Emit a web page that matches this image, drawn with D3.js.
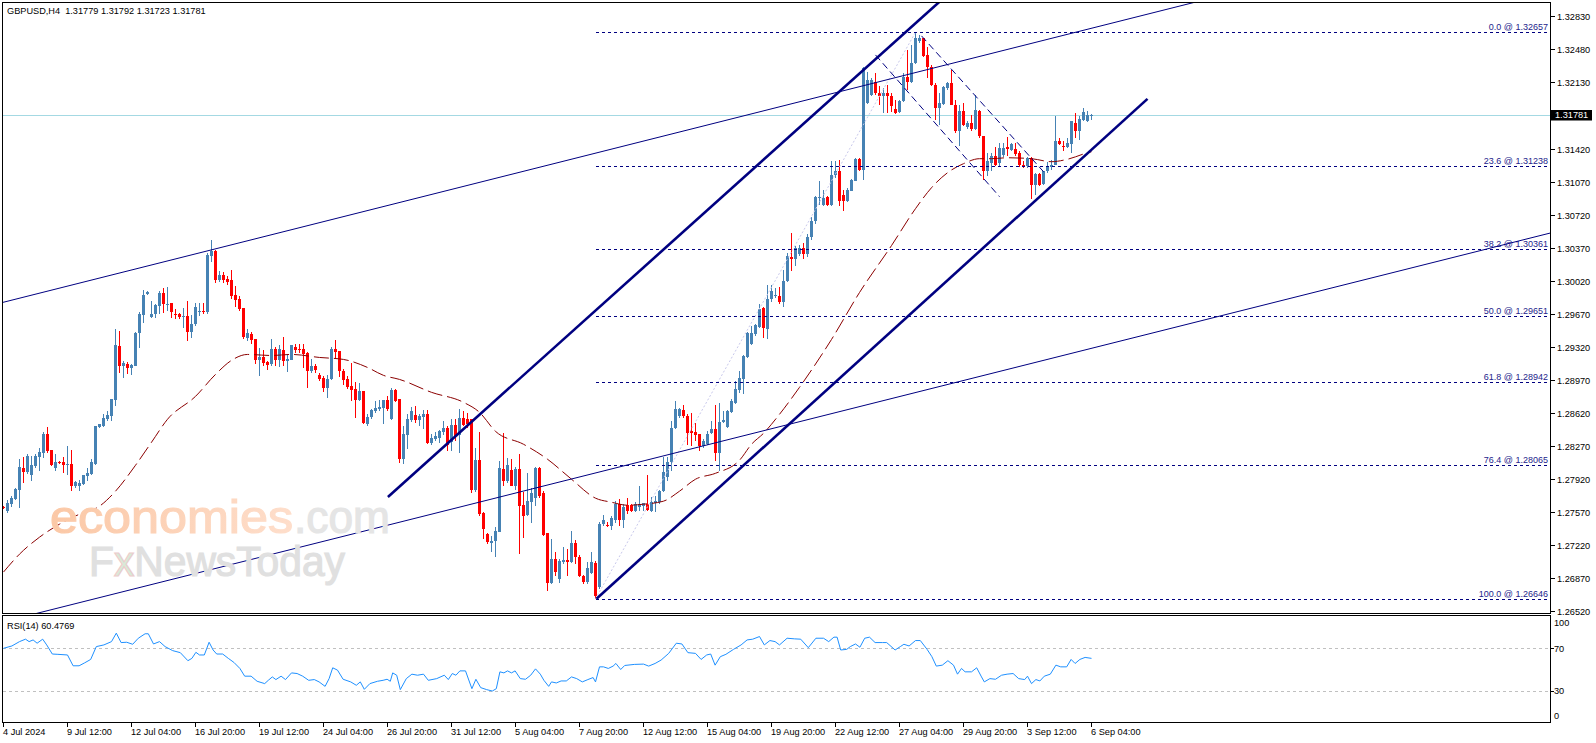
<!DOCTYPE html>
<html><head><meta charset="utf-8">
<script src="https://cdn.jsdelivr.net/npm/d3@7"></script>
<style>
html,body{margin:0;padding:0;background:#fff;overflow:hidden}
svg{display:block}
text{font-family:"Liberation Sans",Arial,sans-serif}
</style>
</head><body>
<svg id="c" width="1596" height="743"></svg>
<script>
// ---------------- DATA ----------------
const symbolTitle = "GBPUSD,H4  1.31779 1.31792 1.31723 1.31781";
const rsiTitle = "RSI(14) 60.4769";
const opens = [
1.27623,1.27573,1.27651,1.27707,1.27803,1.28039,1.27990,1.27962,1.28053,1.28152,
1.28194,1.28392,1.28222,1.28032,1.28099,1.28096,1.28074,1.28074,1.27845,1.27841,
1.27863,1.27948,1.27969,1.28081,1.28470,1.28477,1.28551,1.28583,1.28752,1.29324,
1.29112,1.29141,1.29091,1.29119,1.29465,1.29656,1.29882,1.29635,1.29663,1.29748,
1.29892,1.29769,1.29780,1.29673,1.29663,1.29635,1.29642,1.29479,1.29557,1.29695,
1.29705,1.29688,1.30288,1.30334,1.30034,1.30087,1.30041,1.30027,1.29871,1.29822,
1.29727,1.29416,1.29451,1.29398,1.29176,1.29211,1.29158,1.29134,1.29293,1.29180,
1.29282,1.29169,1.29180,1.29317,1.29293,1.29293,1.29250,1.29063,1.29116,1.29017,
1.28985,1.28883,1.28975,1.29293,1.29271,1.29059,1.28975,1.28904,1.28869,1.28756,
1.28848,1.28505,1.28579,1.28636,1.28664,1.28671,1.28752,1.28550,1.28861,1.28763,
1.28134,1.28385,1.28544,1.28593,1.28544,1.28579,1.28607,1.28297,1.28339,1.28357,
1.28417,1.28463,1.28311,1.28487,1.28381,1.28565,1.28551,1.28551,1.27802,1.28120,
1.27555,1.27333,1.27237,1.27262,1.27358,1.28028,1.27898,1.28014,1.27845,1.28021,
1.27640,1.27534,1.27675,1.27721,1.28039,1.27774,1.27343,1.26814,1.27068,1.26856,
1.27040,1.27058,1.27033,1.27238,1.27089,1.26892,1.26821,1.26920,1.27026,1.26768,
1.27435,1.27428,1.27420,1.27480,1.27650,1.27480,1.27644,1.27637,1.27581,1.27616,
1.27634,1.27651,1.27581,1.27665,1.27669,1.27785,1.27934,1.28093,1.28463,1.28587,
1.28647,1.28590,1.28428,1.28414,1.28393,1.28269,1.28287,1.28410,1.28446,1.28188,
1.28527,1.28474,1.28632,1.28728,1.28862,1.28975,1.29211,1.29346,1.29452,1.29529,
1.29727,1.29504,1.29822,1.29854,1.29864,1.29797,1.30016,1.30274,1.30253,1.30306,
1.30369,1.30300,1.30480,1.30650,1.30900,1.30829,1.30907,1.30829,1.31140,1.31189,
1.30928,1.30864,1.30977,1.31083,1.31312,1.31192,1.31906,1.31994,1.32135,1.32012,
1.31983,1.32012,1.31976,1.31846,1.31807,1.31923,1.32188,1.32125,1.32330,1.32566,
1.32594,1.32418,1.32294,1.32100,1.31853,1.31899,1.32065,1.32118,1.31888,1.31606,
1.31824,1.31648,1.31690,1.31634,1.31824,1.31553,1.31189,1.31270,1.31341,1.31270,
1.31351,1.31436,1.31411,1.31422,1.31376,1.31253,1.31235,1.31323,1.31034,1.31154,
1.31048,1.31182,1.31224,1.31253,1.31507,1.31454,1.31436,1.31471,1.31694,1.31606,
1.31729,1.31711,1.31779];
const highs = [
1.27633,1.27693,1.27739,1.27827,1.28127,1.28156,1.28180,1.28162,1.28187,1.28251,
1.28420,1.28470,1.28229,1.28180,1.28110,1.28152,1.28268,1.28222,1.27898,1.27912,
1.27962,1.28039,1.28134,1.28484,1.28505,1.28604,1.28639,1.28770,1.29504,1.29493,
1.29169,1.29158,1.29141,1.29479,1.29691,1.29921,1.29917,1.29811,1.29776,1.29914,
1.29945,1.29959,1.29780,1.29716,1.29681,1.29737,1.29811,1.29656,1.29787,1.29787,
1.29787,1.30316,1.30457,1.30352,1.30122,1.30111,1.30069,1.30140,1.29970,1.29857,
1.29727,1.29511,1.29476,1.29398,1.29303,1.29282,1.29169,1.29405,1.29317,1.29335,
1.29427,1.29240,1.29342,1.29346,1.29346,1.29346,1.29264,1.29187,1.29134,1.29045,
1.29010,1.29024,1.29321,1.29388,1.29271,1.29088,1.29010,1.29144,1.28947,1.28933,
1.28851,1.28604,1.28664,1.28745,1.28756,1.28756,1.28798,1.28886,1.28875,1.28763,
1.28480,1.28604,1.28685,1.28692,1.28611,1.28650,1.28650,1.28392,1.28417,1.28438,
1.28533,1.28480,1.28558,1.28551,1.28664,1.28639,1.28614,1.28558,1.28251,1.28417,
1.27562,1.27343,1.27315,1.27403,1.28110,1.28410,1.28145,1.28127,1.28050,1.28180,
1.27781,1.27979,1.27827,1.28050,1.28050,1.27792,1.27343,1.27280,1.27139,1.27068,
1.27192,1.27174,1.27368,1.27273,1.27111,1.26899,1.27033,1.27146,1.27050,1.27456,
1.27534,1.27456,1.27528,1.27680,1.27700,1.27650,1.27715,1.27651,1.27669,1.27845,
1.27665,1.27962,1.27722,1.27739,1.27799,1.28153,1.28146,1.28534,1.28746,1.28675,
1.28700,1.28604,1.28622,1.28516,1.28400,1.28340,1.28428,1.28534,1.28703,1.28728,
1.28640,1.28647,1.28763,1.28957,1.29063,1.29233,1.29480,1.29540,1.29558,1.29776,
1.29741,1.29981,1.29974,1.29946,1.29953,1.30140,1.30316,1.30528,1.30387,1.30398,
1.30420,1.30520,1.30700,1.30917,1.31076,1.30988,1.30917,1.31295,1.31295,1.31306,
1.30988,1.31006,1.31104,1.31320,1.31323,1.32294,1.32241,1.32170,1.32230,1.32082,
1.32065,1.32100,1.32012,1.31941,1.31941,1.32224,1.32471,1.32524,1.32657,1.32629,
1.32601,1.32506,1.32305,1.32118,1.32012,1.32082,1.32135,1.32259,1.31941,1.31888,
1.31906,1.31712,1.31775,1.31994,1.31835,1.31560,1.31376,1.31376,1.31436,1.31482,
1.31482,1.31542,1.31482,1.31482,1.31394,1.31295,1.31330,1.31330,1.31161,1.31164,
1.31189,1.31281,1.31306,1.31764,1.31535,1.31500,1.31535,1.31718,1.31800,1.31764,
1.31853,1.31824,1.31792];
const lows = [
1.27594,1.27552,1.27623,1.27693,1.27609,1.27880,1.27969,1.27898,1.28032,1.28004,
1.28145,1.28198,1.28060,1.28004,1.28074,1.27976,1.27962,1.27785,1.27827,1.27792,
1.27856,1.27898,1.27962,1.28067,1.28456,1.28470,1.28533,1.28533,1.28692,1.29038,
1.28985,1.29028,1.29020,1.29112,1.29310,1.29575,1.29868,1.29621,1.29621,1.29670,
1.29681,1.29705,1.29628,1.29610,1.29610,1.29518,1.29381,1.29416,1.29540,1.29652,
1.29663,1.29663,1.30217,1.29992,1.30006,1.29999,1.29981,1.29829,1.29744,1.29698,
1.29398,1.29381,1.29346,1.29134,1.29010,1.29116,1.29074,1.29116,1.29116,1.29109,
1.29116,1.29052,1.29176,1.29250,1.29250,1.29098,1.28886,1.29045,1.29038,1.28957,
1.28841,1.28781,1.28968,1.29194,1.29003,1.28911,1.28869,1.28746,1.28569,1.28749,
1.28498,1.28480,1.28558,1.28622,1.28639,1.28505,1.28639,1.28543,1.28734,1.28085,
1.28074,1.28233,1.28522,1.28515,1.28480,1.28445,1.28286,1.28275,1.28321,1.28304,
1.28381,1.28215,1.28215,1.28321,1.28198,1.28480,1.28463,1.27774,1.27781,1.27520,
1.27280,1.27227,1.27146,1.27086,1.27350,1.27845,1.27873,1.27838,1.27802,1.27121,
1.27287,1.27527,1.27449,1.27633,1.27721,1.27308,1.26733,1.26803,1.26892,1.26814,
1.27015,1.26892,1.27026,1.27015,1.26874,1.26803,1.26803,1.26909,1.26646,1.26750,
1.27421,1.27403,1.27380,1.27450,1.27420,1.27400,1.27545,1.27563,1.27563,1.27581,
1.27581,1.27581,1.27563,1.27570,1.27651,1.27775,1.27898,1.28004,1.28446,1.28569,
1.28562,1.28280,1.28269,1.28322,1.28216,1.28251,1.28280,1.28393,1.28110,1.27997,
1.28516,1.28463,1.28622,1.28717,1.28834,1.28816,1.29204,1.29338,1.29434,1.29522,
1.29416,1.29399,1.29797,1.29840,1.29769,1.29741,1.30009,1.30122,1.30175,1.30281,
1.30250,1.30270,1.30450,1.30620,1.30829,1.30812,1.30812,1.30812,1.31111,1.30812,
1.30766,1.30857,1.30970,1.31076,1.31182,1.31087,1.31895,1.31976,1.31994,1.31888,
1.31800,1.31800,1.31810,1.31789,1.31800,1.31916,1.32047,1.32118,1.32319,1.32541,
1.32400,1.32170,1.32082,1.31729,1.31676,1.31888,1.32047,1.31881,1.31588,1.31447,
1.31659,1.31634,1.31613,1.31620,1.31535,1.31094,1.31129,1.31182,1.31235,1.31235,
1.31330,1.31341,1.31394,1.31341,1.31224,1.31217,1.31217,1.30893,1.30935,1.31023,
1.31034,1.31164,1.31200,1.31246,1.31464,1.31394,1.31429,1.31376,1.31535,1.31517,
1.31711,1.31704,1.31723];
const closes = [
1.27605,1.27658,1.27715,1.27806,1.28046,1.27993,1.28159,1.28067,1.28159,1.28201,
1.28399,1.28215,1.28067,1.28096,1.28089,1.28067,1.28081,1.27845,1.27887,1.27877,
1.27955,1.27983,1.28096,1.28477,1.28498,1.28561,1.28597,1.28763,1.29338,1.29116,
1.29148,1.29091,1.29126,1.29469,1.29670,1.29875,1.29900,1.29673,1.29762,1.29896,
1.29769,1.29776,1.29691,1.29656,1.29635,1.29642,1.29476,1.29557,1.29744,1.29705,
1.29688,1.30299,1.30334,1.30034,1.30087,1.30034,1.30006,1.29864,1.29815,1.29716,
1.29427,1.29462,1.29388,1.29180,1.29211,1.29151,1.29123,1.29293,1.29180,1.29293,
1.29169,1.29194,1.29335,1.29286,1.29282,1.29240,1.29063,1.29116,1.29074,1.28975,
1.28883,1.28975,1.29293,1.29264,1.29063,1.28968,1.28890,1.28862,1.28756,1.28848,
1.28509,1.28579,1.28646,1.28668,1.28682,1.28752,1.28657,1.28861,1.28745,1.28134,
1.28392,1.28551,1.28635,1.28544,1.28586,1.28607,1.28304,1.28350,1.28374,1.28431,
1.28463,1.28275,1.28487,1.28374,1.28568,1.28494,1.28498,1.27802,1.28120,1.27545,
1.27386,1.27244,1.27262,1.27361,1.28039,1.27898,1.28064,1.27845,1.28021,1.27633,
1.27527,1.27682,1.27774,1.28039,1.27739,1.27322,1.26814,1.27068,1.26934,1.27050,
1.27058,1.27033,1.27238,1.27086,1.26892,1.26821,1.26969,1.27040,1.26673,1.27439,
1.27485,1.27421,1.27500,1.27657,1.27480,1.27615,1.27581,1.27581,1.27651,1.27651,
1.27658,1.27588,1.27669,1.27686,1.27792,1.27987,1.28093,1.28463,1.28657,1.28657,
1.28587,1.28410,1.28410,1.28386,1.28269,1.28322,1.28400,1.28446,1.28188,1.28527,
1.28544,1.28640,1.28746,1.28869,1.28986,1.29222,1.29469,1.29469,1.29547,1.29716,
1.29515,1.29822,1.29917,1.29868,1.29797,1.30016,1.30281,1.30253,1.30369,1.30369,
1.30300,1.30480,1.30650,1.30907,1.30914,1.30900,1.30829,1.31147,1.31189,1.30864,
1.30864,1.30988,1.31094,1.31312,1.31192,1.32276,1.32153,1.32153,1.32012,1.31976,
1.32012,1.31976,1.31870,1.31800,1.31930,1.32188,1.32128,1.32330,1.32601,1.32601,
1.32410,1.32294,1.32100,1.31853,1.31906,1.32072,1.32118,1.31888,1.31606,1.31824,
1.31676,1.31690,1.31634,1.31835,1.31553,1.31182,1.31288,1.31341,1.31253,1.31429,
1.31429,1.31422,1.31471,1.31366,1.31246,1.31235,1.31323,1.31034,1.31154,1.31041,
1.31182,1.31235,1.31253,1.31507,1.31471,1.31436,1.31482,1.31711,1.31606,1.31740,
1.31807,1.31782,1.31781];

// moving average (read at sampled bars)
const maBars = [0,4,9,14,19,24,28,33,37,41,48,53,57,61,67,72,79,85,91,95,99,107,115,119,123,130,136,142,148,152,156,160,165,169,173,178,184,187,190,194,199,207,214,222,228,232,236,240,244,247,251,257,262,266,271,272];
const maValues = [1.26930,1.27120,1.27300,1.27438,1.27544,1.27629,1.27788,1.28063,1.28307,1.28551,1.28794,1.29027,1.29176,1.29239,1.29228,1.29239,1.29207,1.29186,1.29101,1.29017,1.28974,1.28837,1.28731,1.28625,1.28423,1.28286,1.28127,1.27915,1.27714,1.27671,1.27639,1.27650,1.27682,1.27788,1.27915,1.27978,1.28116,1.28286,1.28402,1.28604,1.28890,1.29398,1.29896,1.30394,1.30786,1.31008,1.31167,1.31263,1.31316,1.31316,1.31326,1.31316,1.31284,1.31310,1.31379,1.31390];

// RSI(14) read at bar positions
const rsiBars = [0,2.1,4,5.5,6.4,7.4,8.4,9.8,10.8,12.2,13.6,16,17.4,18.9,20.3,21.8,23.2,25.1,27,28.2,29.4,30.8,32.3,33.7,35.4,36.2,37.5,39,40.4,42.3,44.2,46.1,47.1,48.1,49,50.2,51.4,52.4,53.3,54.8,56.2,57.6,59.1,60.3,61.9,63.4,65.3,66.2,67.2,68.1,69.4,70.5,72,73.4,74.8,76.3,77.7,78.9,80.4,81.4,82.3,83.5,84.9,86.8,88.2,89.2,90.2,91.6,93.5,94.9,95.9,96.7,97.3,98.3,99.2,100.7,102.1,103.5,105,106.2,108.3,110.2,111.2,112.2,113.1,114.1,115.5,117.1,118.1,119.3,120.8,122.2,123.2,124.1,125.1,126,127,127.9,129.2,130.5,131.8,133,134.2,135.1,136.3,137,138.2,139.4,140.7,142,143.3,144.7,146.1,147.4,148,149,150,151.2,152.4,153.1,154.3,155.3,157.7,160,161.3,162.9,164.4,166.3,168.2,169.6,171.1,173,174.4,175.8,176.8,177.9,179.2,180.6,182.5,184.4,185.9,187.3,189,190.2,191.6,192.9,194,195.9,197.8,199.3,201.2,203.1,205,206.3,207.6,208.4,209.3,210.8,211.7,213,214.1,215.3,216.5,217.9,219.8,220.8,222.9,224.2,225.1,226.4,228,229.2,230.9,232.1,233.2,234.7,236.1,237.5,238.5,239.5,240.4,242,243.3,244.5,245.2,246.6,248,249.5,250.9,252.4,253.8,255.3,256,257,258.1,259.1,260.2,261.7,263.1,264.3,265.8,266.9,267.9,269.1,270.4,272];
const rsiValues = [70,72.2,76.3,78.6,76.3,77.9,74.8,78.6,73.2,64.6,64.3,63.7,53.5,53.5,56.3,59.5,71.6,73.2,76.3,84.3,75.4,75.7,73.8,79.5,83.7,83.7,74.1,76.3,71.6,67.8,65.9,58.3,60.5,66.2,63.7,63.7,75.7,68.4,64.6,64.6,60.5,56.7,51,43.7,43.7,38.9,36.7,39.8,43,40.5,43.7,40.5,46.8,46.2,43.7,39.8,40.5,38.3,34.1,41.4,51.6,49.4,40.8,38.3,35.1,38.3,31.3,36.7,38.9,39.8,40.8,38.9,46.8,44.6,31,41.4,45.6,44.6,45.6,39.8,41.4,44.6,40.5,46.2,44.6,48.7,48.7,31.9,40.8,32.9,31,29.7,31.9,47.8,46.8,48.7,46.8,48.7,41.4,40.8,44.6,50.6,45.6,39.8,34.1,38.3,37.3,39.2,39.2,43,41.4,38.3,40.5,42.4,38.3,52.5,52.5,51,53.2,55.7,50,53.8,54.8,55.1,53.2,55.7,58.9,65.2,74.8,74.1,65.9,65.2,59.5,63.7,64.6,54.1,62.1,64.3,69,73.2,77.9,78.6,81.1,73.2,77.3,76.3,73.2,79.5,78.9,78.6,70.6,79.5,79.5,76.3,80.5,80.5,68.4,69,71.6,74.1,71,79.5,80.5,75.4,75.4,75.4,68.4,71.6,73.8,72.2,77.3,77.3,69,62.1,53.2,54.1,58.3,54.1,45.6,51,47.8,47.8,51.6,43,38.3,41.4,40.8,44.6,45.6,46.2,41.4,40.5,43.7,36.7,40.5,39.2,43.7,45.6,54.1,52.5,52.5,59.5,55.7,59.5,61.4,60.5];

// axes
const priceTicks = [1.32830,1.32480,1.32130,1.31420,1.31070,1.30720,1.30370,1.30020,1.29670,1.29320,1.28970,1.28620,1.28270,1.27920,1.27570,1.27220,1.26870,1.26520];
const currentPrice = 1.31781;
const timeTickBars = [0,16,32,48,64,80,96,112,128,144,160,176,192,208,224,240,256,272];
const timeLabels = ["4 Jul 2024","9 Jul 12:00","12 Jul 04:00","16 Jul 20:00","19 Jul 12:00","24 Jul 04:00","26 Jul 20:00","31 Jul 12:00","5 Aug 04:00","7 Aug 20:00","12 Aug 12:00","15 Aug 04:00","19 Aug 20:00","22 Aug 12:00","27 Aug 04:00","29 Aug 20:00","3 Sep 12:00","6 Sep 04:00"];
const rsiAxisLevels = [100,70,30,0];
const rsiDashLevels = [70,30];

// fibonacci retracement (low bar -> high bar)
const fibStartBar = 148, fibEndBar = 228;
const fibLevels = [0.0,23.6,38.2,50.0,61.8,76.4,100.0];
const fibPrices = [1.32657,1.31238,1.30361,1.29651,1.28942,1.28065,1.26646];

// trend lines: [bar, price] anchor pairs
const wideChannelUpper = [[0,1.29793],[272,1.32700]];
const wideChannelLower = [[0,1.26403],[272,1.29304]];
const riseChannelUpper = [[96.1,1.27727],[226.75,1.32705]];
const riseChannelLower = [[148.25,1.26646],[286,1.31951]];
const fallChannelUpper = [[229.5,1.32619],[260,1.31178]];
const fallChannelLower = [[218,1.32417],[249,1.30913]];

// ---------------- DRAW ----------------
const svg = d3.select('#c');
const defs = svg.append('defs');
const PL = 2.5, PR = 1550.5, PT = 2.5, PB = 613.5, RT = 615.5, RB = 722.5;

const x = d3.scaleLinear().domain([0,272]).range([3.5,1091.5]);
const y = d3.scaleLinear().domain([1.26520,1.32830]).range([610.7,16]);
const yr = d3.scaleLinear().domain([0,100]).range([722.5,616.5]);

svg.append('rect').attr('width',1596).attr('height',743).attr('fill','#fff');

defs.append('clipPath').attr('id','mainClip').append('rect')
  .attr('x',PL+0.5).attr('y',PT+0.5).attr('width',PR-PL-1).attr('height',PB-PT-1);
defs.append('clipPath').attr('id','rsiClip').append('rect')
  .attr('x',PL+0.5).attr('y',RT+0.5).attr('width',PR-PL-1).attr('height',RB-RT-1);

const main = svg.append('g').attr('clip-path','url(#mainClip)');

// bid line
main.append('line').attr('x1',PL).attr('x2',PR)
  .attr('y1',Math.round(y(currentPrice))+0.5).attr('y2',Math.round(y(currentPrice))+0.5)
  .attr('stroke','#a4d9e3').attr('stroke-width',1).attr('shape-rendering','crispEdges');

// candles
const idx = d3.range(opens.length);
const cg = main.append('g').attr('shape-rendering','crispEdges');
const col = i => closes[i] >= opens[i] ? '#4682b4' : '#ff0000';
cg.selectAll('line.w').data(idx).join('line').attr('class','w')
  .attr('x1',i=>x(i)).attr('x2',i=>x(i))
  .attr('y1',i=>y(highs[i])).attr('y2',i=>y(lows[i]))
  .attr('stroke',col).attr('stroke-width',1);
cg.selectAll('rect.b').data(idx).join('rect').attr('class','b')
  .attr('x',i=>x(i)-1.5).attr('width',3)
  .attr('y',i=>y(Math.max(opens[i],closes[i])))
  .attr('height',i=>Math.max(1, y(Math.min(opens[i],closes[i])) - y(Math.max(opens[i],closes[i]))))
  .attr('fill',col);

// moving average
const maLine = d3.line().x(d=>x(d[0])).y(d=>y(d[1])).curve(d3.curveMonotoneX);
main.append('path').datum(maBars.map((b,i)=>[b,maValues[i]]))
  .attr('d',maLine).attr('fill','none').attr('stroke','#8b0000')
  .attr('stroke-width',1).attr('stroke-dasharray','15,5');

// fib diagonal
main.append('line').attr('x1',x(fibStartBar)).attr('y1',y(fibPrices[6]))
  .attr('x2',x(fibEndBar)).attr('y2',y(fibPrices[0]))
  .attr('stroke','#c9c9ec').attr('stroke-width',1).attr('stroke-dasharray','2,2');

// fib levels
fibPrices.forEach((p,i)=>{
  const yy = Math.round(y(p))+0.5;
  main.append('line').attr('x1',x(fibStartBar)).attr('x2',PR).attr('y1',yy).attr('y2',yy)
    .attr('stroke','#000080').attr('stroke-width',1).attr('stroke-dasharray','3.5,2.5')
    .attr('shape-rendering','crispEdges');
  main.append('text').attr('x',1548).attr('y',yy-2.5).attr('text-anchor','end')
    .attr('font-size',9).attr('fill','#24248c')
    .text(fibLevels[i].toFixed(1)+' @ '+p.toFixed(5));
});

// trend lines
function priceAt(seg,b){const [[b1,p1],[b2,p2]]=seg;return p1+(p2-p1)*(b-b1)/(b2-b1);}
function trend(seg,opt){
  const b0 = opt.rayLeft ? -20 : seg[0][0];
  const b1 = opt.rayRight ? 420 : seg[1][0];
  main.append('line').attr('x1',x(b0)).attr('y1',y(priceAt(seg,b0)))
    .attr('x2',x(b1)).attr('y2',y(priceAt(seg,b1)))
    .attr('stroke','#000080').attr('stroke-width',opt.w||1)
    .attr('stroke-dasharray',opt.dash||null);
}
trend(wideChannelUpper,{rayLeft:true,rayRight:true,w:1});
trend(wideChannelLower,{rayLeft:true,rayRight:true,w:1});
trend(riseChannelUpper,{rayRight:true,w:2.6});
trend(riseChannelLower,{w:2.6});
trend(fallChannelUpper,{w:1,dash:'7,4'});
trend(fallChannelLower,{w:1,dash:'7,4'});

// watermark
const grad = defs.append('linearGradient').attr('id','wmGrad').attr('x1','0').attr('x2','1').attr('y1','0').attr('y2','0');
grad.append('stop').attr('offset','0').attr('stop-color','#fbc8a6');
grad.append('stop').attr('offset','1').attr('stop-color','#fedecb');
const wm = main.append('g').attr('font-family','Lato,"Open Sans",sans-serif');
wm.append('text').attr('x',50).attr('y',533).attr('font-size',46)
  .attr('textLength',243).attr('lengthAdjust','spacingAndGlyphs')
  .attr('fill','url(#wmGrad)').attr('stroke','url(#wmGrad)').attr('stroke-width',1.2).text('economies');
wm.append('text').attr('x',294).attr('y',533).attr('font-size',46)
  .attr('textLength',96).attr('lengthAdjust','spacingAndGlyphs')
  .attr('fill','#e5e5e5').attr('stroke','#e5e5e5').attr('stroke-width',1.2).text('.com');
const fx = wm.append('text').attr('x',89).attr('y',576).attr('font-size',43)
  .attr('textLength',256).attr('lengthAdjust','spacingAndGlyphs').attr('stroke-width',1.2);
fx.append('tspan').attr('fill','#e0e0e0').attr('stroke','#e0e0e0').text('F');
fx.append('tspan').attr('fill','#d8ead8').attr('stroke','#eccccc').text('x');
fx.append('tspan').attr('fill','#e0e0e0').attr('stroke','#e0e0e0').text('NewsToday');

// header
svg.append('text').attr('x',7).attr('y',14).attr('font-size',9.2).attr('fill','#000')
  .style('white-space','pre').text(symbolTitle);

// ---------- RSI panel ----------
const rsiG = svg.append('g').attr('clip-path','url(#rsiClip)');
rsiDashLevels.forEach(l=>{
  const yy = Math.round(yr(l))+0.5;
  rsiG.append('line').attr('x1',PL).attr('x2',PR).attr('y1',yy).attr('y2',yy)
    .attr('stroke','#c0c0c0').attr('stroke-dasharray','3,3').attr('shape-rendering','crispEdges');
});
rsiG.append('path').datum(rsiBars.map((b,i)=>[b,rsiValues[i]]))
  .attr('d',d3.line().x(d=>x(d[0])).y(d=>yr(d[1])))
  .attr('fill','none').attr('stroke','#1e90ff').attr('stroke-width',1);
svg.append('text').attr('x',7).attr('y',629).attr('font-size',9.2).attr('fill','#000').text(rsiTitle);

// ---------- frames ----------
const fr = svg.append('g').attr('fill','none').attr('stroke','#000').attr('stroke-width',1).attr('shape-rendering','crispEdges');
fr.append('rect').attr('x',PL).attr('y',PT).attr('width',PR-PL).attr('height',PB-PT);
fr.append('rect').attr('x',PL).attr('y',RT).attr('width',PR-PL).attr('height',RB-RT);

// ---------- price axis ----------
const ax = svg.append('g').attr('font-size',9.2).attr('fill','#000');
priceTicks.forEach(p=>{
  const yy = Math.round(y(p))+0.5;
  ax.append('line').attr('x1',PR).attr('x2',PR+4).attr('y1',yy).attr('y2',yy)
    .attr('stroke','#000').attr('shape-rendering','crispEdges');
  ax.append('text').attr('x',1557).attr('y',yy+3.3).text(p.toFixed(5));
});
const cy = Math.round(y(currentPrice));
ax.append('rect').attr('x',1551).attr('y',cy-5).attr('width',41).attr('height',10.5).attr('fill','#000');
ax.append('text').attr('x',1555).attr('y',cy+3.4).attr('fill','#fff').text(currentPrice.toFixed(5));

// RSI axis
rsiAxisLevels.forEach(l=>{
  let yy = yr(l);
  if (l===100) yy = 623; if (l===0) yy = 716;
  ax.append('text').attr('x',1554).attr('y',yy+3.3).text(String(l));
  if (l===70 || l===30) ax.append('line').attr('x1',PR).attr('x2',PR+3)
    .attr('y1',Math.round(yr(l))+0.5).attr('y2',Math.round(yr(l))+0.5).attr('stroke','#000').attr('shape-rendering','crispEdges');
});

// ---------- time axis ----------
timeTickBars.forEach((b,i)=>{
  const xx = Math.round(x(b)-0.5)+0.5;
  ax.append('line').attr('x1',xx).attr('x2',xx).attr('y1',RB).attr('y2',RB+4.5)
    .attr('stroke','#000').attr('shape-rendering','crispEdges');
  ax.append('text').attr('x',xx-0.5).attr('y',735).text(timeLabels[i]);
});
</script>
</body></html>
